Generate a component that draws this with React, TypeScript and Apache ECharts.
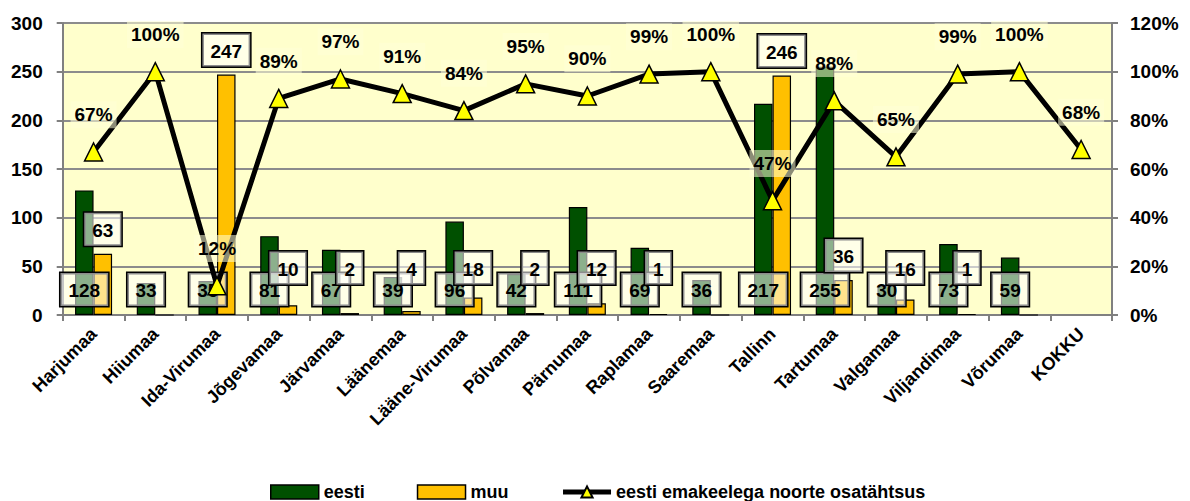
import React, { useEffect, useRef } from "react";
import * as echarts from "echarts";

const categories = [
  "Harjumaa", "Hiiumaa", "Ida-Virumaa", "Jõgevamaa", "Järvamaa", "Läänemaa",
  "Lääne-Virumaa", "Põlvamaa", "Pärnumaa", "Raplamaa", "Saaremaa", "Tallinn",
  "Tartumaa", "Valgamaa", "Viljandimaa", "Võrumaa", "KOKKU",
];
const eesti: (number | null)[] = [128, 33, 35, 81, 67, 39, 96, 42, 111, 69, 36, 217, 255, 30, 73, 59, null];
const muu: (number | null)[] = [63, 0, 247, 10, 2, 4, 18, 2, 12, 1, 0, 246, 36, 16, 1, 0, null];
const osakaal: number[] = [67, 100, 12, 89, 97, 91, 84, 95, 90, 99, 100, 47, 88, 65, 99, 100, 68];
const leftTicks = [0, 50, 100, 150, 200, 250, 300];
const rightTicks = [0, 20, 40, 60, 80, 100, 120];

const FONT = "'Liberation Sans Narrow', 'Arial Narrow', 'Liberation Sans', Arial, sans-serif";

export default function App() {
  const ref = useRef<HTMLDivElement>(null);
  useEffect(() => {
    if (!ref.current) return;
    const chart = echarts.init(ref.current, null, { renderer: "svg" });
    const H = 493;
    const gridTop = 15;
    const gridBottom = 186;
    const plotH = H - gridTop - gridBottom;
    const pxPerUnit = plotH / leftTicks[leftTicks.length - 1];
    const boxStyle = {
      fontFamily: FONT,
      fontSize: 19,
      fontWeight: "bold" as const,
      color: "#000",
      backgroundColor: "rgba(255,255,255,0.55)",
      borderColor: "#000",
      borderWidth: 1.5,
      padding: [8, 8, 6, 8],
    };
    const muuData = muu.map((v) => {
      if (v === null || v === 0) return { value: v, label: { show: false } };
      const target = Math.max(v + 27, 50);
      const extra = (target - (v + 27)) * pxPerUnit;
      return { value: v, label: { offset: [0, -extra] } };
    });
    chart.setOption({
      animation: false,
      textStyle: { fontFamily: FONT },
      grid: {
        left: 54, right: 70, top: gridTop, bottom: gridBottom,
        show: true, backgroundColor: "#FFFFCC", borderWidth: 0,
      },
      legend: {
        top: 470,
        left: 257,
        itemGap: 52,
        itemWidth: 48,
        itemHeight: 14,
        textStyle: { fontFamily: FONT, fontSize: 18, fontWeight: "bold", color: "#000" },
        data: [
          { name: "eesti", icon: "rect", itemStyle: { borderColor: "#000", borderWidth: 1.5 } },
          { name: "muu", icon: "rect", itemStyle: { borderColor: "#000", borderWidth: 1.5 } },
          { name: "eesti emakeelega noorte osatähtsus", lineStyle: { width: 5, color: "#000" } },
        ],
      },
      xAxis: {
        type: "category",
        data: categories,
        boundaryGap: true,
        axisLine: { lineStyle: { color: "#808080", width: 2 } },
        axisTick: { show: true, alignWithLabel: false, length: 6, lineStyle: { color: "#808080", width: 2 } },
        axisLabel: {
          interval: 0,
          rotate: 45,
          fontFamily: FONT,
          fontSize: 18,
          fontWeight: "bold",
          color: "#000",
          margin: 16,
        },
      },
      yAxis: [
        {
          type: "value",
          min: 0, max: 300, interval: 50,
          axisLine: { show: true, lineStyle: { color: "#808080", width: 2 } },
          axisTick: { show: true, length: 6, lineStyle: { color: "#808080", width: 2 } },
          splitLine: { show: true, lineStyle: { color: "#8c8c8c", width: 2 } },
          axisLabel: {
            fontFamily: FONT, fontSize: 19, fontWeight: "bold", color: "#000", margin: 20,
            formatter: (v: number) => (leftTicks.includes(v) ? String(v) : ""),
          },
        },
        {
          type: "value",
          min: 0, max: 120, interval: 20,
          axisLine: { show: true, lineStyle: { color: "#808080", width: 2 } },
          axisTick: { show: true, length: 6, lineStyle: { color: "#808080", width: 2 } },
          splitLine: { show: false },
          axisLabel: {
            fontFamily: FONT, fontSize: 19, fontWeight: "bold", color: "#000", margin: 18,
            formatter: (v: number) => (rightTicks.includes(v) ? v + "%" : ""),
          },
        },
      ],
      series: [
        {
          name: "eesti",
          type: "bar",
          data: eesti,
          barWidth: "30%",
          barGap: "0%",
          itemStyle: { color: "#005000", borderColor: "#000", borderWidth: 1.2 },
          label: {
            show: true,
            position: "insideBottom",
            distance: 9,
            ...boxStyle,
          },
          z: 2,
        },
        {
          name: "muu",
          type: "bar",
          data: muuData,
          barWidth: "30%",
          barGap: "0%",
          itemStyle: { color: "#FFC000", borderColor: "#000", borderWidth: 1.2 },
          label: {
            show: true,
            position: "top",
            distance: 8,
            ...boxStyle,
          },
          z: 2,
        },
        {
          name: "eesti emakeelega noorte osatähtsus",
          type: "line",
          yAxisIndex: 1,
          data: osakaal,
          symbol: "triangle",
          symbolSize: 18,
          lineStyle: { color: "#000", width: 5 },
          itemStyle: { color: "#FFFF00", borderColor: "#000", borderWidth: 1.5 },
          label: {
            show: true,
            position: "top",
            distance: 14,
            formatter: (p: any) => p.value + "%",
            fontFamily: FONT,
            fontSize: 19,
            fontWeight: "bold",
            color: "#000",
            backgroundColor: "rgba(255,255,215,0.55)",
            padding: [4, 4],
          },
          z: 3,
        },
      ],
    });
    return () => chart.dispose();
  }, []);
  return <div ref={ref} style={{ width: 1174, height: 493 }} />;
}
